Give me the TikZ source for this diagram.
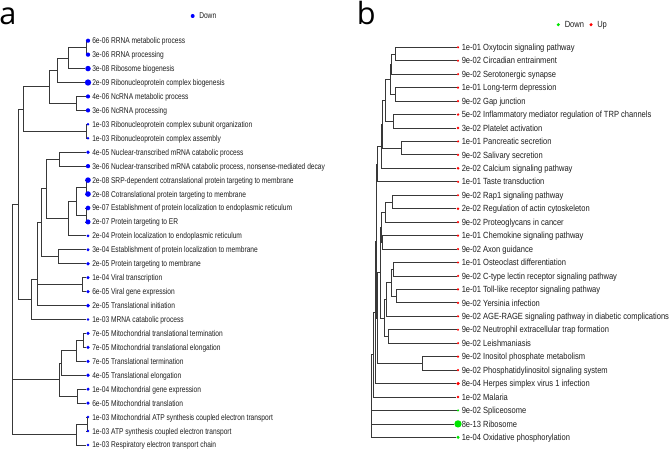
\documentclass[tikz,border=0pt]{standalone}
\usepackage{fontspec}
\setmainfont{Liberation Sans}
\newfontfamily\lfont[FakeStretch=0.79]{Liberation Sans}
\newfontfamily\rfont[FakeStretch=0.845]{Liberation Sans}
\newfontfamily\pfont{Open Sans}
\usetikzlibrary{calc,backgrounds}
\definecolor{dblue}{RGB}{0,0,255}
\definecolor{dred}{RGB}{255,0,0}
\definecolor{dgreen}{RGB}{0,230,0}
\tikzset{
  br/.style={draw=black!78, line width=0.6pt},
  ldot/.style={circle, inner sep=0pt, draw=none},
  ltxt/.style={anchor=base west, inner sep=0pt, font=\lfont\fontsize{6.3}{7}\selectfont, text=black!88},
  rtxt/.style={anchor=base west, inner sep=0pt, font=\rfont\fontsize{6.7}{7.5}\selectfont, text=black!88},
  plabel/.style={anchor=base west, inner sep=0pt, font=\pfont\fontsize{23}{24}\selectfont},
}
\newcommand\lleaf[4]{%
  \node[ldot, fill=dblue, minimum size={#3*0.75pt}] (#1) at (88,{40.7+(#2-1)*13.94}) {};
  \node[ltxt] (#1t) at (92,{40.7+(#2-1)*13.94+3}) {#4};}
\newcommand\rleaf[5]{%
  \node[ldot, fill=#4, minimum size={#3*0.75pt}] (#1) at (458,{47.3+(#2-1)*13.45}) {};
  \node[rtxt] (#1t) at (461.5,{47.3+(#2-1)*13.45+3.2}) {#5};}
\newcommand\inode[4]{%
  \coordinate (tmpmid) at ($(#2)!0.5!(#3)$);
  \coordinate (#1) at (#4,0 |- tmpmid);
  \begin{scope}[on background layer]
    \draw[br] (#1) |- (#2);
    \draw[br] (#1) |- (#3);
  \end{scope}}
\begin{document}
\begin{tikzpicture}[x=0.75pt,y=-0.75pt]
\useasboundingbox (0,0) rectangle (669,453);
\begin{scope}[on background layer]
  \fill[white] (0,0) rectangle (669,453);
\end{scope}
% panel labels
\node[plabel] (pa) at (-1,25) {a};
\node[plabel] (pb) at (356.7,25) {b};
% legends
\node[ldot, fill=dblue, minimum size={4*0.75pt}] (lgA) at (192.7,16) {};
\node[ltxt] (lgAt) at (199,19) {Down};
\node[ldot, fill=dgreen, minimum size={3.4*0.75pt}] (lgG) at (558.3,24.7) {};
\node[rtxt] (lgGt) at (564.5,27.9) {Down};
\node[ldot, fill=dred, minimum size={3.4*0.75pt}] (lgR) at (591,24.7) {};
\node[rtxt] (lgRt) at (597,27.9) {Up};
% ---------- left panel leaves
\lleaf{L1}{1}{4.2}{6e-06 RRNA metabolic process}
\lleaf{L2}{2}{4.3}{3e-06 RRNA processing}
\lleaf{L3}{3}{5.5}{3e-08 Ribosome biogenesis}
\lleaf{L4}{4}{6.3}{2e-09 Ribonucleoprotein complex biogenesis}
\lleaf{L5}{5}{4.2}{4e-06 NcRNA metabolic process}
\lleaf{L6}{6}{4.3}{3e-06 NcRNA processing}
\lleaf{L7}{7}{2.8}{1e-03 Ribonucleoprotein complex subunit organization}
\lleaf{L8}{8}{2.8}{1e-03 Ribonucleoprotein complex assembly}
\lleaf{L9}{9}{3.7}{4e-05 Nuclear-transcribed mRNA catabolic process}
\lleaf{L10}{10}{4.3}{3e-06 Nuclear-transcribed mRNA catabolic process, nonsense-mediated decay}
\lleaf{L11}{11}{5.6}{2e-08 SRP-dependent cotranslational protein targeting to membrane}
\lleaf{L12}{12}{5.6}{2e-08 Cotranslational protein targeting to membrane}
\lleaf{L13}{13}{4.7}{9e-07 Establishment of protein localization to endoplasmic reticulum}
\lleaf{L14}{14}{5.1}{2e-07 Protein targeting to ER}
\lleaf{L15}{15}{3.2}{2e-04 Protein localization to endoplasmic reticulum}
\lleaf{L16}{16}{3.1}{3e-04 Establishment of protein localization to membrane}
\lleaf{L17}{17}{3.9}{2e-05 Protein targeting to membrane}
\lleaf{L18}{18}{3.4}{1e-04 Viral transcription}
\lleaf{L19}{19}{3.6}{6e-05 Viral gene expression}
\lleaf{L20}{20}{3.9}{2e-05 Translational initiation}
\lleaf{L21}{21}{2.8}{1e-03 MRNA catabolic process}
\lleaf{L22}{22}{3.5}{7e-05 Mitochondrial translational termination}
\lleaf{L23}{23}{3.5}{7e-05 Mitochondrial translational elongation}
\lleaf{L24}{24}{3.5}{7e-05 Translational termination}
\lleaf{L25}{25}{3.7}{4e-05 Translational elongation}
\lleaf{L26}{26}{3.4}{1e-04 Mitochondrial gene expression}
\lleaf{L27}{27}{3.6}{6e-05 Mitochondrial translation}
\lleaf{L28}{28}{2.8}{1e-03 Mitochondrial ATP synthesis coupled electron transport}
\lleaf{L29}{29}{2.8}{1e-03 ATP synthesis coupled electron transport}
\lleaf{L30}{30}{2.8}{1e-03 Respiratory electron transport chain}
% left tree
\inode{a12}{L1}{L2}{86.5}
\inode{a123}{a12}{L3}{68}
\inode{a14}{a123}{L4}{57.3}
\inode{a56}{L5}{L6}{76}
\inode{a16}{a14}{a56}{49.3}
\inode{a78}{L7}{L8}{86.8}
\inode{a18}{a16}{a78}{23.3}
\inode{a910}{L9}{L10}{59.3}
\inode{a1112}{L11}{L12}{86.8}
\inode{a1314}{L13}{L14}{86.8}
\inode{a1114}{a1112}{a1314}{76.7}
\inode{a1115}{a1114}{L15}{68.3}
\inode{a915}{a910}{a1115}{46.7}
\inode{a1617}{L16}{L17}{58.3}
\inode{a917}{a915}{a1617}{41.7}
\inode{a1819}{L18}{L19}{82.5}
\coordinate (a920) at (37.3,279);
\begin{scope}[on background layer]
  \draw[br] (a920) |- (a917);
  \draw[br] (a920) |- (a1819);
  \draw[br] (a920) |- (L20);
\end{scope}
\inode{a921}{a920}{L21}{31.7}
\inode{a121}{a18}{a921}{18.3}
\inode{a2223}{L22}{L23}{83}
\inode{a2224}{a2223}{L24}{76}
\inode{a2225}{a2224}{L25}{61.7}
\inode{a2627}{L26}{L27}{77.3}
\inode{a2227}{a2225}{a2627}{59.3}
\inode{a2829}{L28}{L29}{87}
\inode{a2830}{a2829}{L30}{76.7}
\inode{a2230}{a2227}{a2830}{12.7}
\inode{aroot}{a121}{a2230}{12.7}
% ---------- right panel leaves
\rleaf{R1}{1}{2.4}{dred}{1e-01 Oxytocin signaling pathway}
\rleaf{R2}{2}{2.4}{dred}{9e-02 Circadian entrainment}
\rleaf{R3}{3}{2.4}{dred}{9e-02 Serotonergic synapse}
\rleaf{R4}{4}{2.4}{dred}{1e-01 Long-term depression}
\rleaf{R5}{5}{2.4}{dred}{9e-02 Gap junction}
\rleaf{R6}{6}{2.6}{dred}{5e-02 Inflammatory mediator regulation of TRP channels}
\rleaf{R7}{7}{2.7}{dred}{3e-02 Platelet activation}
\rleaf{R8}{8}{2.4}{dred}{1e-01 Pancreatic secretion}
\rleaf{R9}{9}{2.4}{dred}{9e-02 Salivary secretion}
\rleaf{R10}{10}{2.8}{dred}{2e-02 Calcium signaling pathway}
\rleaf{R11}{11}{2.4}{dred}{1e-01 Taste transduction}
\rleaf{R12}{12}{2.4}{dred}{9e-02 Rap1 signaling pathway}
\rleaf{R13}{13}{2.8}{dred}{2e-02 Regulation of actin cytoskeleton}
\rleaf{R14}{14}{2.4}{dred}{9e-02 Proteoglycans in cancer}
\rleaf{R15}{15}{2.4}{dred}{1e-01 Chemokine signaling pathway}
\rleaf{R16}{16}{2.4}{dred}{9e-02 Axon guidance}
\rleaf{R17}{17}{2.4}{dred}{1e-01 Osteoclast differentiation}
\rleaf{R18}{18}{2.4}{dred}{9e-02 C-type lectin receptor signaling pathway}
\rleaf{R19}{19}{2.4}{dred}{1e-01 Toll-like receptor signaling pathway}
\rleaf{R20}{20}{2.4}{dred}{9e-02 Yersinia infection}
\rleaf{R21}{21}{2.4}{dred}{9e-02 AGE-RAGE signaling pathway in diabetic complications}
\rleaf{R22}{22}{2.4}{dred}{9e-02 Neutrophil extracellular trap formation}
\rleaf{R23}{23}{2.4}{dred}{9e-02 Leishmaniasis}
\rleaf{R24}{24}{2.4}{dred}{9e-02 Inositol phosphate metabolism}
\rleaf{R25}{25}{2.4}{dred}{9e-02 Phosphatidylinositol signaling system}
\rleaf{R26}{26}{3.6}{dred}{8e-04 Herpes simplex virus 1 infection}
\rleaf{R27}{27}{2.8}{dred}{1e-02 Malaria}
\rleaf{R28}{28}{2.4}{dgreen}{9e-02 Spliceosome}
\rleaf{R29}{29}{7.3}{dgreen}{8e-13 Ribosome}
\rleaf{R30}{30}{3.3}{dgreen}{1e-04 Oxidative phosphorylation}
% right tree
\inode{b12}{R1}{R2}{395}
\inode{b13}{b12}{R3}{391.7}
\inode{b45}{R4}{R5}{395.3}
\inode{b15}{b13}{b45}{390.5}
\inode{b67}{R6}{R7}{393.3}
\inode{b17}{b15}{b67}{385.7}
\inode{b89}{R8}{R9}{401}
\inode{b19}{b17}{b89}{382.7}
\inode{b110}{b19}{R10}{381.5}
\inode{b111}{b110}{R11}{377.7}
\inode{b1213}{R12}{R13}{392.3}
\inode{b1214}{b1213}{R14}{385.7}
\inode{b1516}{R15}{R16}{382.7}
\inode{b1216}{b1214}{b1516}{381.2}
\inode{b1718}{R17}{R18}{393.3}
\inode{b1920}{R19}{R20}{396}
\inode{b1720}{b1718}{b1920}{391}
\inode{b1721}{b1720}{R21}{386}
\inode{b2223}{R22}{R23}{388.5}
\inode{b1723}{b1721}{b2223}{384.5}
\inode{b1223}{b1216}{b1723}{380.2}
\inode{b2425}{R24}{R25}{422.3}
\inode{b1225}{b1223}{b2425}{377.7}
\inode{b125}{b111}{b1225}{376.7}
\inode{b126}{b125}{R26}{375}
\inode{b127}{b126}{R27}{373.5}
\coordinate (broot) at (371.7,400);
\begin{scope}[on background layer]
  \draw[br] (broot) |- (b127);
  \draw[br] (broot) |- (R28);
  \draw[br] (broot) |- (R29);
  \draw[br] (broot) |- (R30);
\end{scope}
\end{tikzpicture}
\end{document}
